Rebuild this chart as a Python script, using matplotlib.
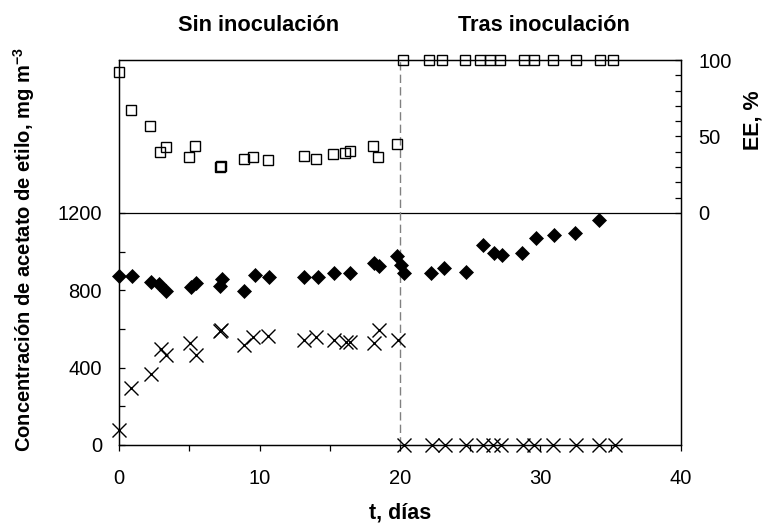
import matplotlib
matplotlib.use("Agg")
import matplotlib.pyplot as plt
from matplotlib.ticker import FixedLocator

plt.rcParams['font.family'] = ['Liberation Sans', 'DejaVu Sans']
plt.rcParams['mathtext.fontset'] = 'custom'
plt.rcParams['mathtext.rm'] = 'Liberation Sans'
plt.rcParams['mathtext.bf'] = 'Liberation Sans:bold'
plt.rcParams['mathtext.it'] = 'Liberation Sans:italic'

# ---- data ----
# EE (%), open squares, right axis
t_ee = [0.0, 0.8, 2.2, 2.9, 3.3, 5.0, 5.4, 7.15, 7.25, 8.85, 9.55, 10.6, 13.15, 14.05,
        15.25, 16.1, 16.45, 18.1, 18.45, 19.8,
        20.2, 22.1, 23.0, 24.6, 25.7, 26.4, 27.1, 28.8, 29.55, 30.9, 32.55, 34.25, 35.2]
ee = [92, 67, 57, 40, 43, 36.5, 44, 30, 30.5, 35.5, 36.5, 34.5, 37.5, 35.5,
      38.5, 39.5, 40.5, 44, 36.5, 45,
      100, 100, 100, 100, 100, 100, 100, 100, 100, 100, 100, 100, 100]

# outlet concentration, crosses, left axis
t_out = [0.0, 0.85, 2.25, 2.95, 3.3, 5.05, 5.45, 7.15, 7.25, 8.9, 9.55, 10.6, 13.15, 14.05,
         15.3, 16.15, 16.45, 18.15, 18.5, 19.85,
         20.25, 22.25, 23.2, 24.7, 25.9, 26.6, 27.2, 28.75, 29.55, 30.9, 32.55, 34.15, 35.3]
c_out = [78, 293, 367, 497, 466, 526, 466, 590, 596, 517, 560, 566, 543, 560,
         543, 535, 535, 526, 595, 543,
         0, 0, 0, 0, 0, 0, 0, 0, 0, 0, 0, 0, 0]

# inlet concentration, filled diamonds, left axis
t_in = [0.0, 0.88, 2.26, 2.83, 3.33, 5.1, 5.5, 7.17, 7.3, 8.9, 9.67, 10.67, 13.16, 14.13,
        15.3, 16.44, 18.17, 18.5, 19.8, 20.05, 20.28,
        22.2, 23.1, 24.7, 25.9, 26.7, 27.3, 28.7, 29.67, 30.97, 32.5, 34.2]
c_in = [874, 874, 845, 833, 798, 819, 840, 823, 857, 798, 879, 871, 871, 871,
        888, 891, 940, 926, 975, 930, 888,
        891, 914, 897, 1035, 995, 983, 992, 1069, 1086, 1095, 1164]

t_inoc = 20
conc_split = 1200
conc_ticks = [0, 400, 800, 1200]
conc_minor = [200, 600, 1000]
x_ticks = [0, 10, 20, 30, 40]
x_minor = [5, 15, 25, 35]
ee_ticks = [0, 50, 100]
ee_minor = [10, 20, 30, 40, 60, 70, 80, 90]

# ---- figure ----
fig = plt.figure(figsize=(7.66, 5.24), dpi=100)
ax = fig.add_axes([119.3 / 766, 79 / 524, 561.4 / 766, 385 / 524])
YMAX = 1991
ax.set_xlim(0, 40)
ax.set_ylim(0, YMAX)
ax2 = ax.twinx()
ax2.set_ylim(-100 * conc_split / (YMAX - conc_split), 100)

ax.axhline(conc_split, color='black', lw=0.9, zorder=1)
ax.axvline(t_inoc, color='#808080', lw=1.0, linestyle=(0, (6, 3)), zorder=1)

ax.plot(t_in, c_in, linestyle='none', marker='D', ms=7.0, mfc='black', mec='black',
        mew=0.5, clip_on=False, zorder=3)
ax.plot(t_out, c_out, linestyle='none', marker='x', ms=9.5, mec='black', mew=1.0,
        clip_on=False, zorder=3)
ax2.plot(t_ee, ee, linestyle='none', marker='s', ms=7.8, mfc='none', mec='black',
         mew=1.0, clip_on=False, zorder=3)

for a in (ax, ax2):
    for s in a.spines.values():
        s.set_linewidth(0.9)
        s.set_color('black')

ax.set_xticks(x_ticks)
ax.xaxis.set_minor_locator(FixedLocator(x_minor))
ax.set_yticks(conc_ticks)
ax.yaxis.set_minor_locator(FixedLocator(conc_minor))
ax2.set_yticks(ee_ticks)
ax2.yaxis.set_minor_locator(FixedLocator(ee_minor))

ax.tick_params(axis='x', which='both', direction='out', length=4.5, width=0.9,
               pad=12.5, labelsize=14.5, top=False)
ax.tick_params(axis='y', which='both', direction='in', length=4.5, width=0.9,
               pad=12.5, labelsize=14.5, right=False)
ax2.tick_params(axis='y', which='both', direction='in', length=4.5, width=0.9,
                pad=12.5, labelsize=14.5)

fig.text(258.3 / 766, 1 - 30.7 / 524, 'Sin inoculación', ha='center', va='baseline',
         fontsize=15.7, fontweight='bold')
fig.text(543.7 / 766, 1 - 30.7 / 524, 'Tras inoculación', ha='center', va='baseline',
         fontsize=15.7, fontweight='bold')
fig.text(400 / 766, 1 - 513 / 524, 't, días', ha='center', va='center',
         fontsize=15.5, fontweight='bold')
fig.text(24 / 766, 1 - 250 / 524, r'Concentración de acetato de etilo, mg m$^{\mathbf{-3}}$',
         ha='center', va='center', rotation=90, fontsize=14.5, fontweight='bold')
fig.text(753.5 / 766, 1 - 120 / 524, 'EE, %', ha='center', va='center', rotation=90,
         fontsize=15.5, fontweight='bold')

fig.savefig('out.png', dpi=100)
